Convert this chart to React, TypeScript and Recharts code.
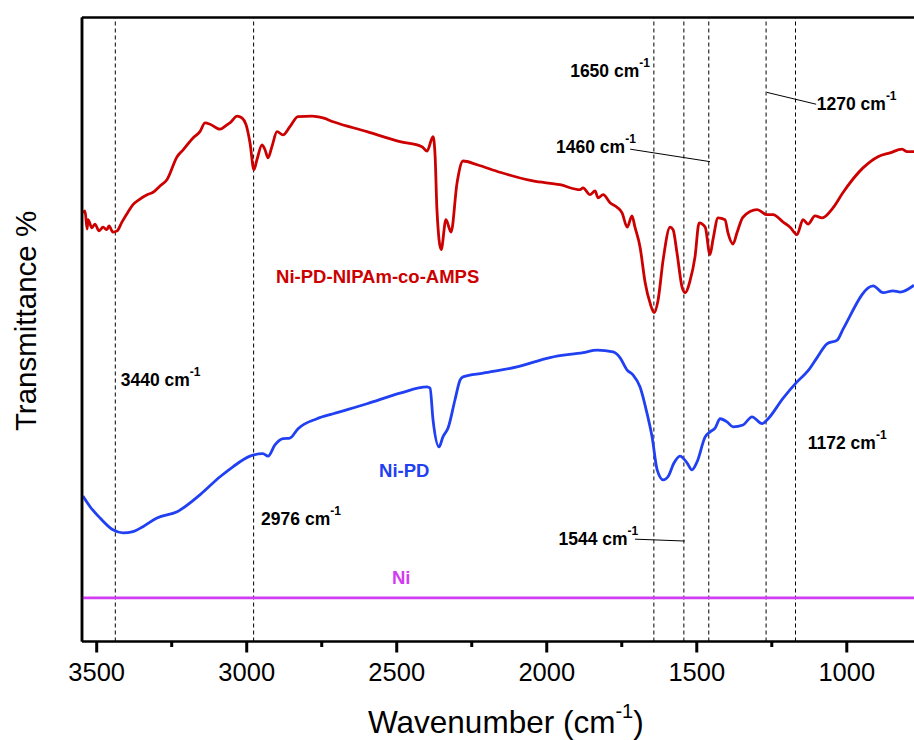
import React from 'react';
import { LineChart, Line, XAxis, YAxis, ReferenceLine, ReferenceDot } from 'recharts';

const FONT = '"Liberation Sans", Arial, Helvetica, sans-serif';

// FTIR spectra, wavenumber (cm-1) vs transmittance (arbitrary, 0-100 of the frame)
const redWave = [
  3546, 3539, 3532, 3529, 3516, 3506, 3492, 3479, 3466, 3459, 3446, 3432, 3416, 3396, 3379, 3356,
  3332, 3312, 3289, 3266, 3232, 3212, 3179, 3156, 3139, 3122, 3089, 3066, 3056, 3032, 3016, 3002,
  2989, 2976, 2966, 2949, 2939, 2929, 2916, 2899, 2879, 2856, 2829, 2782, 2746, 2712, 2599, 2489,
  2416, 2399, 2379, 2372, 2366, 2352, 2336, 2319, 2299, 2279, 2232, 2156, 2046, 1956, 1889, 1879,
  1856, 1839, 1829, 1812, 1789, 1766, 1749, 1732, 1716, 1706, 1689, 1672, 1656, 1642, 1629, 1612,
  1589, 1579, 1566, 1549, 1539, 1522, 1506, 1492, 1472, 1456, 1446, 1429, 1406, 1396, 1379, 1366,
  1346, 1299, 1266, 1246, 1212, 1189, 1166, 1146, 1129, 1106, 1082, 1046, 1012, 946, 896, 856,
  816, 799, 776,
];
const redT = [
  68.7, 69.0, 66.1, 67.6, 66.3, 66.9, 65.8, 66.4, 66.0, 66.6, 65.6, 65.8, 67.2, 68.8, 70.0, 70.9,
  71.6, 72.0, 73.0, 74.0, 77.7, 78.8, 80.7, 81.7, 83.1, 82.9, 82.1, 82.8, 83.1, 84.2, 83.9, 82.8,
  79.9, 75.6, 77.2, 79.6, 78.8, 77.5, 79.3, 81.7, 81.2, 82.5, 84.1, 84.2, 83.9, 83.3, 81.7, 80.1,
  79.3, 78.6, 80.9, 77.7, 69.2, 62.8, 67.6, 65.6, 73.5, 77.0, 76.4, 75.2, 73.8, 73.2, 72.4, 72.7,
  71.6, 72.2, 71.1, 71.6, 70.3, 69.6, 68.7, 66.4, 68.2, 66.4, 63.2, 57.5, 54.3, 52.7, 54.7, 61.2,
  66.4, 66.0, 62.3, 56.8, 55.9, 57.9, 61.6, 67.1, 66.4, 62.0, 64.4, 67.9, 67.6, 65.5, 63.7, 65.5,
  68.0, 69.2, 68.4, 68.4, 67.2, 66.4, 65.2, 67.6, 66.9, 68.2, 67.9, 69.5, 72.0, 75.9, 77.7, 78.3,
  78.9, 78.5, 78.5,
];

const blueWave = [
  3546, 3522, 3489, 3446, 3412, 3379, 3346, 3299, 3232, 3156, 3089, 3046, 2989, 2946, 2929, 2906,
  2879, 2856, 2829, 2766, 2712, 2599, 2489, 2399, 2389, 2379, 2359, 2346, 2329, 2306, 2289, 2279,
  2212, 2099, 1989, 1879, 1832, 1779, 1756, 1732, 1712, 1689, 1666, 1649, 1632, 1612, 1596, 1576,
  1556, 1532, 1516, 1499, 1472, 1456, 1439, 1422, 1399, 1379, 1346, 1316, 1282, 1266, 1212, 1166,
  1129, 1099, 1066, 1032, 1012, 912, 879, 846, 822, 776,
];
const blueT = [
  23.3, 21.6, 19.8, 17.9, 17.4, 17.6, 18.4, 19.8, 20.8, 23.5, 26.4, 28.0, 29.7, 30.1, 29.7, 31.5,
  32.5, 32.6, 34.1, 35.7, 36.5, 38.1, 39.8, 40.8, 40.6, 35.5, 31.2, 32.8, 34.2, 38.7, 41.9, 42.4,
  43.0, 44.0, 45.5, 46.3, 46.7, 46.4, 45.5, 43.5, 42.7, 40.8, 36.6, 32.8, 27.5, 25.9, 26.4, 28.6,
  29.7, 28.6, 27.5, 28.8, 32.8, 33.6, 34.2, 35.7, 35.2, 34.4, 34.7, 36.0, 34.9, 35.5, 39.0, 41.6,
  43.4, 45.5, 47.7, 48.3, 50.1, 57.0, 55.9, 56.2, 56.0, 57.1,
];

const niWave = [3549, 2500, 1500, 776];
const niT = [7.0, 7.0, 7.0, 7.0];

const xTicks = [3500, 3250, 3000, 2750, 2500, 2250, 2000, 1750, 1500, 1250, 1000];

// dashed guide lines at the marked bands
const peakLines = [3438, 2977, 1643, 1543, 1460, 1269, 1171];
const peakLabels = ['3440', '2976', '1650', '1460', '1270', '1544', '1172'];
const peakLabelW = [3420, 2952, 1922, 1969, 1100, 1961, 1130];
const peakLabelT = [40.9, 18.7, 90.5, 78.3, 85.2, 15.5, 30.8];

// thin leader lines from a label to its band
const leaderFrom = [[1266, 88.0], [1722, 78.9], [1706, 16.4]];
const leaderTo = [[1102, 86.1], [1456, 76.9], [1540, 16.1]];

const seriesNames = ['Ni-PD-NIPAm-co-AMPS', 'Ni-PD', 'Ni'];
const seriesColors = ['#CC0000', '#2040F2', '#D23CF2'];
const seriesLabelW = [2902, 2559, 2516];
const seriesLabelT = [57.5, 26.4, 9.2];

const toRows = (w: number[], t: number[]) => w.map((v, i) => ({ w: v, t: t[i] }));

const WaveTick = (props: any) => {
  const { x, y, payload } = props;
  const major = payload.value % 500 === 0;
  return (
    <g>
      <line x1={x} x2={x} y1={y} y2={y + (major ? 11 : 5.5)} stroke="#000" strokeWidth={3} />
      {major && (
        <text x={x} y={y + 39.5} textAnchor="middle" fontSize={25.5} fontFamily={FONT} fill="#000">
          {payload.value}
        </text>
      )}
    </g>
  );
};

const peakShape = (label: string) => (p: any) => (
  <text x={p.cx} y={p.cy} fontFamily={FONT} fontWeight="bold" fontSize={17.5} fill="#000">
    {label} cm
    <tspan dy={-10} fontSize={12}>-1</tspan>
  </text>
);

const nameShape = (label: string, color: string) => (p: any) => (
  <text x={p.cx} y={p.cy} fontFamily={FONT} fontWeight="bold" fontSize={18.5} fill={color}>
    {label}
  </text>
);

const YTitle = () => (
  <text
    x={36}
    y={321}
    transform="rotate(-90 36 321)"
    textAnchor="middle"
    fontFamily={FONT}
    fontSize={29.5}
    fill="#000"
  >
    Transmittance %
  </text>
);

const XTitle = () => (
  <text x={368} y={733} fontFamily={FONT} fontSize={31.5} fill="#000">
    Wavenumber (cm
    <tspan dy={-15} fontSize={20}>-1</tspan>
    <tspan dy={15} fontSize={31.5}>)</tspan>
  </text>
);

export default function App() {
  const seriesData = [toRows(redWave, redT), toRows(blueWave, blueT), toRows(niWave, niT)];

  return (
    <div style={{ width: 914, height: 740, overflow: 'hidden', background: '#fff' }}>
      <style>{'body{margin:0;overflow:hidden;}'}</style>
      <LineChart width={914} height={740} margin={{ top: 17.5, right: 0, bottom: 0, left: 0 }}>
        <XAxis
          dataKey="w"
          type="number"
          domain={[776, 3549]}
          reversed
          allowDataOverflow
          ticks={xTicks}
          interval={0}
          tick={<WaveTick />}
          tickLine={false}
          tickSize={0}
          tickMargin={0}
          axisLine={{ stroke: '#000', strokeWidth: 2.5 }}
          height={98.5}
          label={<XTitle />}
        />
        <YAxis
          type="number"
          domain={[0, 100]}
          allowDataOverflow
          width={82}
          tick={false}
          tickLine={false}
          axisLine={{ stroke: '#000', strokeWidth: 2.5 }}
          label={<YTitle />}
        />
        <ReferenceLine y={100} stroke="#000" strokeWidth={2.5} />
        <ReferenceLine x={3549} stroke="#000" strokeWidth={2.5} />

        {peakLines.map((w) => (
          <ReferenceLine key={`pk-${w}`} x={w} stroke="#000" strokeWidth={1} strokeDasharray="4 3" />
        ))}
        {leaderFrom.map((a, i) => (
          <ReferenceLine
            key={`ld-${i}`}
            segment={[
              { x: a[0], y: a[1] },
              { x: leaderTo[i][0], y: leaderTo[i][1] },
            ]}
            stroke="#000"
            strokeWidth={1}
          />
        ))}

        {seriesData.map((rows, i) => (
          <Line
            key={seriesNames[i]}
            data={rows}
            dataKey="t"
            name={seriesNames[i]}
            type="monotone"
            stroke={seriesColors[i]}
            strokeWidth={2.8}
            dot={false}
            isAnimationActive={false}
          />
        ))}

        {peakLabels.map((lab, i) => (
          <ReferenceDot
            key={`pl-${lab}`}
            x={peakLabelW[i]}
            y={peakLabelT[i]}
            r={0}
            shape={peakShape(lab)}
          />
        ))}
        {seriesNames.map((n, i) => (
          <ReferenceDot
            key={`sn-${n}`}
            x={seriesLabelW[i]}
            y={seriesLabelT[i]}
            r={0}
            shape={nameShape(n, seriesColors[i])}
          />
        ))}
      </LineChart>
    </div>
  );
}
